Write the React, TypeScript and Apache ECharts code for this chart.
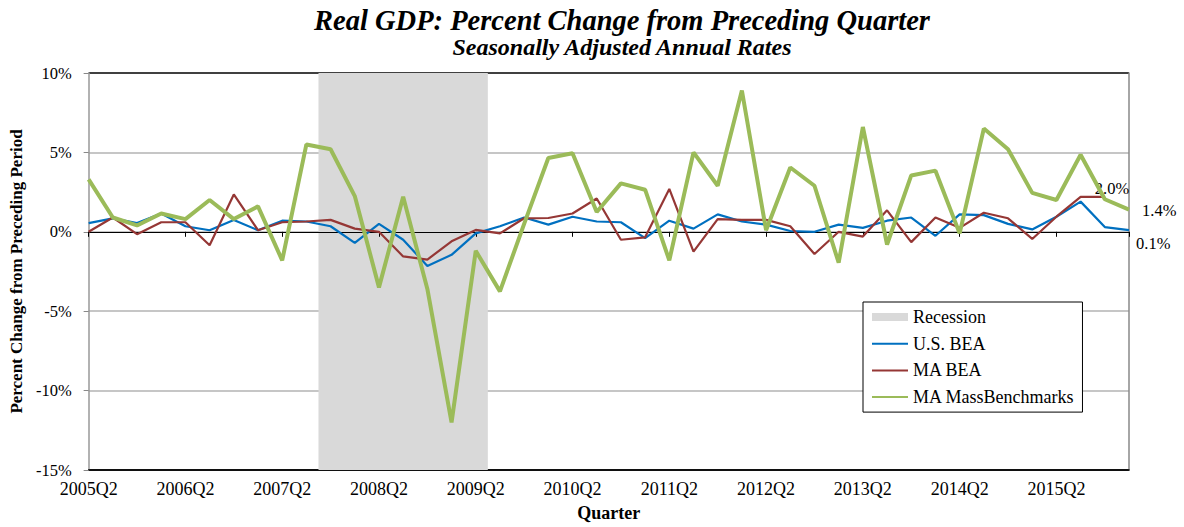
import React, { useEffect, useRef } from "react";
import * as echarts from "echarts";

const quarters = [
  "2005Q2", "2005Q3", "2005Q4", "2006Q1", "2006Q2", "2006Q3", "2006Q4", "2007Q1",
  "2007Q2", "2007Q3", "2007Q4", "2008Q1", "2008Q2", "2008Q3", "2008Q4", "2009Q1",
  "2009Q2", "2009Q3", "2009Q4", "2010Q1", "2010Q2", "2010Q3", "2010Q4", "2011Q1",
  "2011Q2", "2011Q3", "2011Q4", "2012Q1", "2012Q2", "2012Q3", "2012Q4", "2013Q1",
  "2013Q2", "2013Q3", "2013Q4", "2014Q1", "2014Q2", "2014Q3", "2014Q4", "2015Q1",
  "2015Q2", "2015Q3", "2015Q4", "2016Q1",
];

const usBEA = [
  0.55, 0.85, 0.55, 1.15, 0.35, 0.1, 0.75, 0.1, 0.7, 0.65, 0.35, -0.7, 0.5, -0.5, -2.15, -1.45,
  -0.1, 0.35, 0.9, 0.45, 0.95, 0.65, 0.6, -0.4, 0.7, 0.2, 1.1, 0.65, 0.45, 0.05, 0.0, 0.45,
  0.25, 0.7, 0.9, -0.25, 1.1, 1.05, 0.5, 0.15, 0.95, 1.9, 0.3, 0.1,
];

const maBEA = [
  0.0, 0.9, -0.15, 0.6, 0.6, -0.85, 2.35, 0.1, 0.6, 0.65, 0.75, 0.2, 0.0, -1.55, -1.75, -0.6,
  0.12, -0.1, 0.85, 0.87, 1.15, 2.1, -0.5, -0.35, 2.7, -1.25, 0.8, 0.75, 0.75, 0.35, -1.4, 0.0,
  -0.3, 1.35, -0.65, 0.9, 0.25, 1.2, 0.85, -0.45, 0.95, 2.2, 2.2,
];

const massBenchmarks = [
  3.3, 0.9, 0.4, 1.15, 0.8, 2.0, 0.8, 1.6, -1.8, 5.5, 5.2, 2.25, -3.5, 2.2, -3.6, -12.0,
  -1.2, -3.75, 0.5, 4.65, 4.95, 1.25, 3.05, 2.65, -1.8, 5.0, 2.9, 8.9, 0.1, 4.05, 2.9, -1.95,
  6.6, -0.8, 3.55, 3.85, -0.1, 6.5, 5.2, 2.45, 2.0, 4.85, 2.05, 1.4,
];

// Recession shading span, in quarter-index units (2007Q4 .. 2009Q2, edges between quarters)
const recessionSpan = [9.5, 16.5];

const yTicks = [-15, -10, -5, 0, 5, 10];

const endLabelText = { us: "0.1%", ma: "2.0%", mb: "1.4%" };

const FONT = "'Liberation Serif', 'Times New Roman', serif";

const toPairs = (arr: number[]) => arr.map((v, i) => [i, v]);

export default function App() {
  const ref = useRef<HTMLDivElement>(null);

  useEffect(() => {
    if (!ref.current) return;
    const chart = echarts.init(ref.current, null, { renderer: "svg" });
    const xMax = quarters.length - 1;
    const yLabelStyle = { fontFamily: FONT, fontSize: 16.5, color: "#000" };
    const xLabelStyle = { fontFamily: FONT, fontSize: 18, color: "#000" };

    chart.setOption({
      animation: false,
      backgroundColor: "#fff",
      graphic: [
        {
          type: "text",
          x: 622,
          y: 20,
          style: {
            text: "Real GDP: Percent Change from Preceding Quarter",
            fontFamily: FONT,
            fontSize: 28.5,
            fontWeight: "bold",
            fontStyle: "italic",
            fill: "#000",
            textAlign: "center",
            textVerticalAlign: "middle",
          },
        },
        {
          type: "text",
          x: 622,
          y: 47,
          style: {
            text: "Seasonally Adjusted Annual Rates",
            fontFamily: FONT,
            fontSize: 24,
            fontWeight: "bold",
            fontStyle: "italic",
            fill: "#000",
            textAlign: "center",
            textVerticalAlign: "middle",
          },
        },
      ],
      grid: { left: 86, right: 55, top: 73, bottom: 52, containLabel: false },
      legend: {
        orient: "vertical",
        left: 863,
        top: 302,
        padding: [6, 8, 6, 8],
        itemGap: 8.7,
        itemWidth: 36,
        itemHeight: 8,
        backgroundColor: "#fff",
        borderColor: "#000",
        borderWidth: 1,
        borderRadius: 0,
        textStyle: { fontFamily: FONT, fontSize: 18, color: "#000", lineHeight: 18 },
        data: [
          { name: "Recession", icon: "rect" },
          { name: "U.S. BEA", itemStyle: { opacity: 0 } },
          { name: "MA BEA", itemStyle: { opacity: 0 } },
          { name: "MA MassBenchmarks", itemStyle: { opacity: 0 } },
        ],
      },
      xAxis: [
        {
          type: "value",
          position: "bottom",
          min: 0,
          max: xMax,
          interval: 4,
          name: "Quarter",
          nameLocation: "middle",
          nameGap: 34,
          nameTextStyle: { fontFamily: FONT, fontSize: 18, fontWeight: "bold", color: "#000" },
          axisLine: { show: true, onZero: false, lineStyle: { color: "#000", width: 1.5 } },
          axisTick: { show: false },
          splitLine: { show: false },
          axisLabel: {
            ...xLabelStyle,
            margin: 10,
            showMaxLabel: false,
            formatter: (v: number) => quarters[Math.round(v)] ?? "",
          },
        },
        {
          type: "value",
          position: "bottom",
          min: 0,
          max: xMax,
          interval: 4,
          z: 2,
          axisLine: { show: true, onZero: true, onZeroAxisIndex: 0, lineStyle: { color: "#000", width: 1.2 } },
          axisTick: { show: true, length: 5, lineStyle: { color: "#000" } },
          axisLabel: { show: false },
          splitLine: { show: false },
        },
      ],
      yAxis: [
        {
          type: "value",
          position: "left",
          min: yTicks[0],
          max: yTicks[yTicks.length - 1],
          interval: 5,
          name: "Percent Change from Preceding Period",
          nameLocation: "middle",
          nameGap: 60,
          nameTextStyle: { fontFamily: FONT, fontSize: 17, fontWeight: "bold", color: "#000" },
          axisLine: { show: true, onZero: false, lineStyle: { color: "#999", width: 1.5 } },
          axisTick: { show: true, length: 5, lineStyle: { color: "#888" } },
          axisLabel: { ...yLabelStyle, margin: 17, formatter: (v: number) => `${v}%` },
          splitLine: {
            show: true,
            lineStyle: {
              color: ["#000", "#b3b3b3", "#b3b3b3", "#b3b3b3", "#b3b3b3", "#000"],
              width: 1.5,
            },
          },
        },
        {
          type: "value",
          position: "right",
          min: yTicks[0],
          max: yTicks[yTicks.length - 1],
          interval: 5,
          axisLine: { show: true, onZero: false, lineStyle: { color: "#888", width: 1.5 } },
          axisTick: { show: false },
          axisLabel: { show: false },
          splitLine: { show: false },
        },
      ],
      series: [
        {
          name: "Recession",
          type: "line",
          data: [],
          z: 1,
          color: "#d9d9d9",
          symbol: "none",
          markArea: {
            silent: true,
            itemStyle: { color: "#d9d9d9", opacity: 1 },
            data: [[{ xAxis: recessionSpan[0] }, { xAxis: recessionSpan[1] }]],
          },
        },
        {
          name: "U.S. BEA",
          type: "line",
          z: 3,
          data: toPairs(usBEA),
          color: "#0070c0",
          symbol: "none",
          lineStyle: { width: 2.2, color: "#0070c0" },
          endLabel: {
            show: true,
            formatter: endLabelText.us,
            distance: 7,
            offset: [0, 13],
            ...yLabelStyle,
          },
        },
        {
          name: "MA BEA",
          type: "line",
          z: 3,
          data: toPairs(maBEA),
          color: "#953735",
          symbol: "none",
          lineStyle: { width: 2.2, color: "#953735" },
          endLabel: {
            show: true,
            formatter: endLabelText.ma,
            distance: 0,
            offset: [-10, -8],
            ...yLabelStyle,
          },
        },
        {
          name: "MA MassBenchmarks",
          type: "line",
          z: 4,
          data: toPairs(massBenchmarks),
          color: "#9bbb59",
          symbol: "none",
          lineStyle: { width: 4, color: "#9bbb59" },
          endLabel: {
            show: true,
            formatter: endLabelText.mb,
            distance: 13,
            offset: [0, 1],
            ...yLabelStyle,
          },
        },
      ],
    });

    return () => chart.dispose();
  }, []);

  return (
    <div
      ref={ref}
      style={{ position: "absolute", left: 0, top: 0, width: 1184, height: 527, background: "#fff" }}
    />
  );
}
